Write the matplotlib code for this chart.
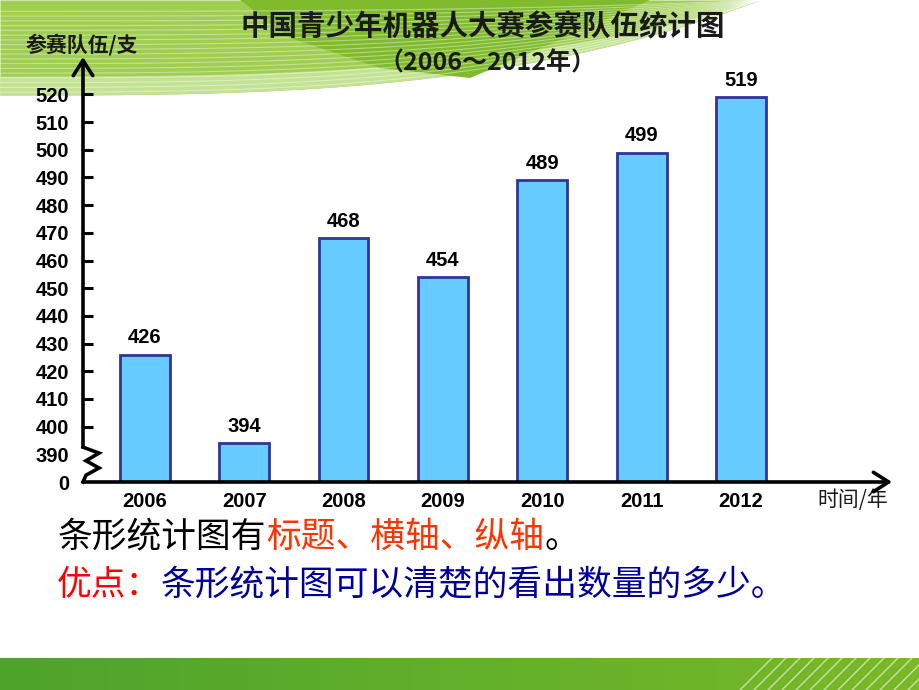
import numpy as np
import matplotlib
matplotlib.use('Agg')
import matplotlib.pyplot as plt
from matplotlib.colors import LinearSegmentedColormap

plt.rcParams['font.family'] = ['Noto Sans CJK SC', 'DejaVu Sans']

# data
years = ['2006', '2007', '2008', '2009', '2010', '2011', '2012']
teams = [426, 394, 468, 454, 489, 499, 519]
# broken y axis: the baseline (380 on the scale) is labelled 0
ytick_values = [380, 390, 400, 410, 420, 430, 440, 450, 460, 470, 480, 490, 500, 510, 520]
ytick_labels = ['0', '390', '400', '410', '420', '430', '440', '450', '460', '470',
                '480', '490', '500', '510', '520']

title = '中国青少年机器人大赛参赛队伍统计图'
subtitle = '（2006～2012年）'
ylabel = '参赛队伍/支'
xlabel = '时间/年'
line1 = [('条形统计图有', 'black'), ('标题、横轴、纵轴', '#FF3300'), ('。', 'black')]
line2 = [('优点：', '#FF0000'), ('条形统计图可以清楚的看出数量的多少。', '#000099')]

num_font = 'Liberation Sans'

fig = plt.figure(figsize=(9.2, 6.9), dpi=100)

# ---- slide background (pixel coordinates) ----
bg = fig.add_axes([0, 0, 1, 1], zorder=0)
bg.axis('off')

xs = np.linspace(0, 760, 200)
edge = 95 * (1 - (xs / 760) ** 3)
bg.fill_between(xs, 0, edge, color='#A0CE50', lw=0)
bg.fill_between(xs, edge * 0.80, edge, color='#C4E294', lw=0)
bg.fill([240, 650, 560, 470, 380, 290], [0, 0, 40, 78, 68, 38], color='#80BB2E', lw=0)
for k in np.linspace(0.12, 0.97, 18):
    bg.plot(xs, edge * k, color='white', lw=0.8, alpha=0.4)

grad = np.linspace(0, 1, 256).reshape(1, -1)
cmap = LinearSegmentedColormap.from_list('band', ['#4EA32C', '#62B02B', '#7AB927'])
bg.imshow(grad, extent=[0, 920, 690, 658], cmap=cmap, aspect='auto')
for x0 in np.arange(740, 930, 14):
    bg.plot([x0, x0 + 32], [690, 658], color='white', lw=1, alpha=0.6)
bg.set_xlim(0, 920)
bg.set_ylim(690, 0)

# titles and texts
bg.text(483, 27, title, fontsize=20.5, ha='center', va='center', color='#1a1a1a',
        fontweight='bold')
bg.text(487, 63, subtitle, fontsize=18, ha='center', va='center', color='#1a1a1a',
        fontweight='bold')
bg.text(82, 45, ylabel, fontsize=15, ha='center', va='center', color='#1a1a1a',
        fontweight='bold')
bg.text(853, 500, xlabel, fontsize=15, ha='center', va='center', color='#1a1a1a')

fs = 25
em = fs * 100 / 72
for segs, x0, yc in [(line1, 58, 537), (line2, 57, 585)]:
    n = 0
    for s, c in segs:
        bg.text(x0 + n * em, yc, s, fontsize=fs, color=c, ha='left', va='center',
                fontweight='medium')
        n += len(s)

# ---- chart ----
ax = fig.add_axes([83 / 920, (690 - 482) / 690, 809 / 920, 425 / 690], zorder=1)
ax.patch.set_alpha(0)
x = np.arange(len(years))
ax.bar(x, [v - 380 for v in teams], bottom=380, width=0.5,
       color='#66CCFF', edgecolor='#333399', linewidth=2, zorder=2)
for xi, v in zip(x, teams):
    ax.annotate(str(v), (xi, v), xytext=(0, 12), textcoords='offset points',
                ha='center', va='center', fontsize=14.5, fontweight='bold',
                family=num_font)

ax.set_xlim(-0.624, 7.52)
ax.set_ylim(380, 533.5)
for s in ax.spines.values():
    s.set_visible(False)

ax.set_xticks(x)
ax.set_xticklabels(years, fontsize=14.5, fontweight='bold', family=num_font)
ax.tick_params(axis='x', length=0, pad=7)
ax.set_yticks(ytick_values)
ax.set_yticklabels(ytick_labels, fontsize=14.5, fontweight='bold', family=num_font)
ax.tick_params(axis='y', direction='in', length=7.5, width=2.2, pad=10)
for t in ax.yaxis.get_major_ticks()[:2]:
    t.tick1line.set_visible(False)

# axes with arrows
arrow = dict(arrowstyle='->, head_length=0.55, head_width=0.35', lw=2.6,
             color='black', mutation_scale=20, shrinkA=0, shrinkB=0)
ax.annotate('', xy=(1, 0), xytext=(0, 0), xycoords='axes fraction', arrowprops=arrow)
ax.annotate('', xy=(0, 1), xytext=(0, 0.082), xycoords='axes fraction', arrowprops=arrow)
# axis break zigzag
zx = [0, 0.0198, 0.0037, 0.0198, 0.0037, 0]
zy = [0.082, 0.068, 0.050, 0.033, 0.016, 0.0]
ax.plot(zx, zy, color='black', lw=2.6, transform=ax.transAxes, clip_on=False,
        solid_joinstyle='miter')

fig.savefig('out.png', dpi=100)
